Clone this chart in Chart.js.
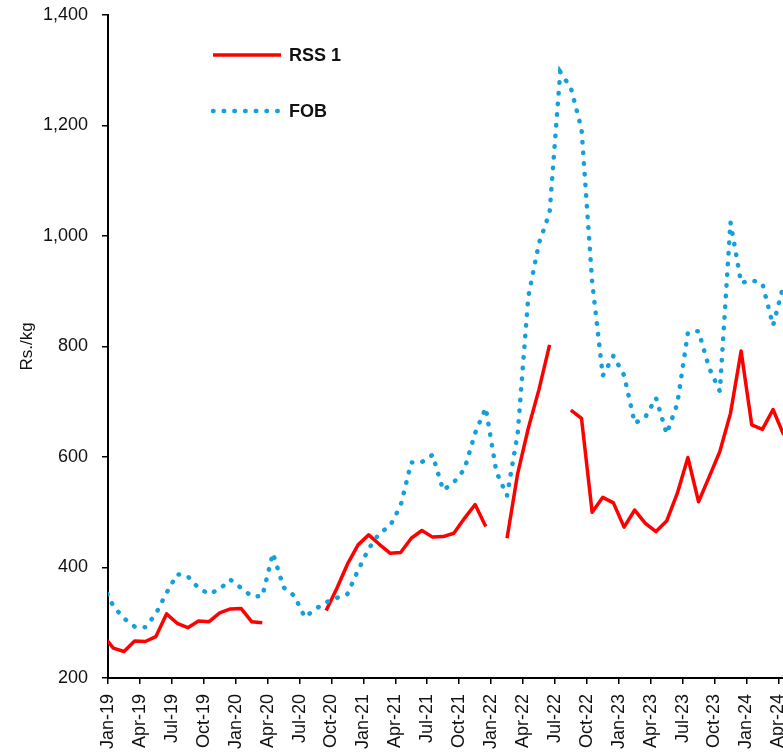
<!DOCTYPE html>
<html>
<head>
<meta charset="utf-8">
<script src="https://cdn.jsdelivr.net/npm/chart.js@4.4.1/dist/chart.umd.min.js"></script>
<style>
  html, body { margin: 0; padding: 0; background: #fff; }
  #wrap { width: 783px; height: 752px; overflow: hidden; }
  #chart { display: block; }
</style>
</head>
<body>
<div id="wrap"><canvas id="chart" width="789" height="800" style="width:789px;height:800px"></canvas></div>
<script>
// monthly values, Dec-18 .. Apr-24 (Dec-18 only shows as the clipped start of the lines)
const months = [
  'Dec-18',
  'Jan-19', 'Feb-19', 'Mar-19', 'Apr-19', 'May-19', 'Jun-19', 'Jul-19', 'Aug-19', 'Sep-19', 'Oct-19', 'Nov-19', 'Dec-19',
  'Jan-20', 'Feb-20', 'Mar-20', 'Apr-20', 'May-20', 'Jun-20', 'Jul-20', 'Aug-20', 'Sep-20', 'Oct-20', 'Nov-20', 'Dec-20',
  'Jan-21', 'Feb-21', 'Mar-21', 'Apr-21', 'May-21', 'Jun-21', 'Jul-21', 'Aug-21', 'Sep-21', 'Oct-21', 'Nov-21', 'Dec-21',
  'Jan-22', 'Feb-22', 'Mar-22', 'Apr-22', 'May-22', 'Jun-22', 'Jul-22', 'Aug-22', 'Sep-22', 'Oct-22', 'Nov-22', 'Dec-22',
  'Jan-23', 'Feb-23', 'Mar-23', 'Apr-23', 'May-23', 'Jun-23', 'Jul-23', 'Aug-23', 'Sep-23', 'Oct-23', 'Nov-23', 'Dec-23',
  'Jan-24', 'Feb-24', 'Mar-24', 'Apr-24'
];

const rss1 = [
  278,
  254, 248, 267, 266, 275, 316, 299, 291, 303, 302, 318, 325,
  326, 302, 300, null, null, null, null, null, 322, 362, 406, 441,
  459, 442, 426, 427, 453, 467, 455, 456, 462, 489, 514, 474,
  null, 453, 570, 652, 722, 803, null, 685, 670, 500, 527, 517,
  473, 504, 480, 465, 484, 534, 599, 519, 564, 610, 679, 792,
  658, 650, 686, 640
];

const fob = [
  370,
  330, 308, 293, 292, 316, 354, 388, 384, 363, 352, 361, 378,
  363, 348, 348, 426, 364, 349, 310, 325, 337, 345, 352, 395,
  434, 462, 475, 512, 590, 591, 604, 540, 554, 578, 643, 689,
  573, 530, 642, 890, 987, 1042, 1297, 1268, 1194, 917, 747, 783,
  748, 661, 672, 707, 642, 696, 825, 828, 761, 719, 1025, 915,
  920, 914, 838, 912
];

const tickLabels = [
  'Jan-19', 'Apr-19', 'Jul-19', 'Oct-19', 'Jan-20', 'Apr-20', 'Jul-20', 'Oct-20',
  'Jan-21', 'Apr-21', 'Jul-21', 'Oct-21', 'Jan-22', 'Apr-22', 'Jul-22', 'Oct-22',
  'Jan-23', 'Apr-23', 'Jul-23', 'Oct-23', 'Jan-24', 'Apr-24'
];

const FONT = "'Liberation Sans', Arial, sans-serif";
const RED = '#ff0000';
const BLUE = '#14a0dc';

// x = months since Jan-19; each monthly point sits in the middle of its month
function toPoints(values) {
  return values.map((v, k) => ({ x: k - 0.5, y: v }));
}

// legend drawn inside the plot, top left
const insideLegend = {
  id: 'insideLegend',
  afterDraw(chart) {
    const ctx = chart.ctx;
    const rows = [55, 111];
    ctx.save();
    chart.data.datasets.forEach((ds, i) => {
      const y = rows[i];
      ctx.beginPath();
      ctx.strokeStyle = ds.borderColor;
      ctx.lineWidth = ds.borderWidth;
      ctx.lineCap = ds.borderCapStyle || 'butt';
      ctx.setLineDash(ds.borderDash || []);
      ctx.moveTo(213, y);
      ctx.lineTo(ds.borderDash ? 280 : 281, y);
      ctx.stroke();
      ctx.setLineDash([]);
      ctx.fillStyle = '#111';
      ctx.font = 'bold 18px ' + FONT;
      ctx.textBaseline = 'middle';
      ctx.textAlign = 'left';
      ctx.fillText(ds.label, 289, y + 1);
    });
    ctx.restore();
  }
};

new Chart(document.getElementById('chart'), {
  type: 'line',
  data: {
    datasets: [
      {
        label: 'RSS 1',
        data: toPoints(rss1),
        borderColor: RED,
        borderWidth: 3.5,
        borderJoinStyle: 'round',
        pointRadius: 0,
        spanGaps: false,
        tension: 0,
        clip: 0,
        order: 1
      },
      {
        label: 'FOB',
        data: toPoints(fob),
        borderColor: BLUE,
        borderWidth: 4.5,
        borderDash: [0.5, 10.2],
        borderCapStyle: 'round',
        pointRadius: 0,
        spanGaps: false,
        tension: 0,
        clip: 0,
        order: 0
      }
    ]
  },
  options: {
    responsive: false,
    animation: false,
    layout: { padding: { top: 15, left: 0, right: 0, bottom: 0 } },
    plugins: {
      legend: { display: false },
      tooltip: { enabled: false }
    },
    scales: {
      x: {
        type: 'linear',
        min: 0,
        max: 64,
        afterFit(scale) {
          scale.height = 122;
          scale.paddingLeft = 0;
          scale.paddingRight = 0;
        },
        border: { color: '#000', width: 2 },
        grid: { drawOnChartArea: false, drawTicks: true, tickLength: 6, color: '#000', lineWidth: 1.5 },
        ticks: {
          stepSize: 3,
          autoSkip: false,
          includeBounds: false,
          maxRotation: 90,
          minRotation: 90,
          padding: 10,
          color: '#111',
          font: { family: FONT, size: 18 },
          callback: (value) => (value % 3 === 0 ? (tickLabels[value / 3] || '') : '')
        }
      },
      y: {
        min: 200,
        max: 1400,
        afterFit(scale) {
          scale.width = 108;
          scale.paddingTop = 0;
          scale.paddingBottom = 0;
        },
        border: { color: '#000', width: 2 },
        grid: { drawOnChartArea: false, drawTicks: true, tickLength: 6, color: '#000', lineWidth: 1.5 },
        ticks: {
          stepSize: 200,
          padding: 14,
          color: '#111',
          font: { family: FONT, size: 18 },
          callback: (value) => value.toLocaleString('en-US')
        },
        title: {
          display: true,
          text: 'Rs./kg',
          color: '#111',
          padding: { top: 17, bottom: 0 },
          font: { family: FONT, size: 17 }
        }
      }
    }
  },
  plugins: [insideLegend]
});
</script>
</body>
</html>
